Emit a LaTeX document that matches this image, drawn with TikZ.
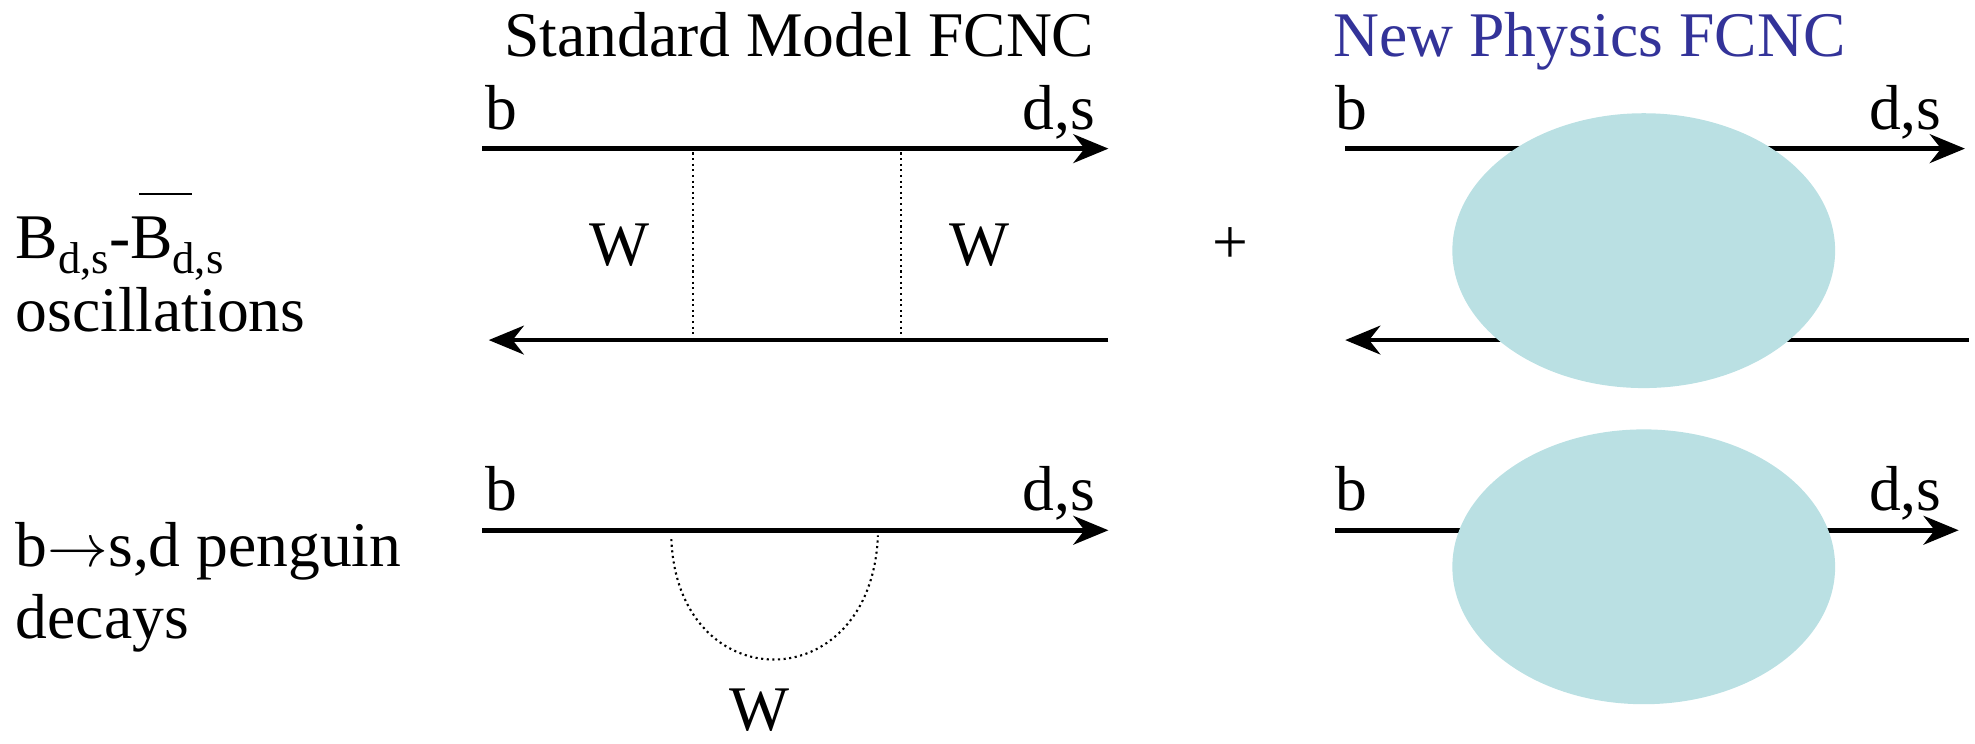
\documentclass[tikz,border=0pt]{standalone}
\usepackage{fontspec}
\setmainfont{Liberation Serif}
\usepackage{tikz}
\usetikzlibrary{arrows.meta,shapes.geometric}

\definecolor{npblue}{RGB}{51,51,153}
\definecolor{blobfill}{RGB}{186,224,227}
\newcommand{\qsub}[1]{\raisebox{-0.24em}{\fontsize{12.7}{14}\selectfont #1}}
\newcommand{\qbar}{\rlap{\hspace{0.14em}\rule[0.99em]{0.83em}{0.6pt}}}

\begin{document}
\begin{tikzpicture}[x=0.0126cm,y=-0.0126cm,
                    font=\fontsize{18.1}{21.7}\selectfont,
                    quark/.style={line width=1.3pt,-{Stealth[length=10pt,width=8.2pt,inset=3.2pt]}},
                    wprop/.style={densely dotted,line width=0.6pt},
                    blob/.style={ellipse,fill=blobfill,inner sep=0pt,minimum width=3.83cm,minimum height=2.75cm},
                    lbl/.style={inner sep=0pt}]
  \useasboundingbox (0,0) rectangle (1568,590);

  % headings
  \node[lbl,anchor=base west] (smhead) at (400,45) {Standard Model FCNC};
  \node[lbl,anchor=base west,text=npblue] (nphead) at (1058,45) {New Physics FCNC};

  % row labels
  \node[lbl,anchor=base west] (mix1) at (12,205) {B\qsub{d,s}-\qbar B\qsub{d,s}};
  \node[lbl,anchor=base west] (mix2) at (12,263) {oscillations};
  \node[lbl,anchor=base west] (peng1) at (12,450) {b$\rightarrow$s,d penguin};
  \node[lbl,anchor=base west] (peng2) at (12,507) {decays};

  % quark labels
  \node[lbl,anchor=base west] (bin1) at (385,103) {b};
  \node[lbl,anchor=base east] (dout1) at (870,103) {d,s};
  \node[lbl,anchor=base west] (bin2) at (1060,103) {b};
  \node[lbl,anchor=base east] (dout2) at (1542,103) {d,s};
  \node[lbl,anchor=base west] (bin3) at (385,405) {b};
  \node[lbl,anchor=base east] (dout3) at (870,405) {d,s};
  \node[lbl,anchor=base west] (bin4) at (1060,405) {b};
  \node[lbl,anchor=base east] (dout4) at (1542,405) {d,s};

  \node[lbl] (wleft) at (492,195) {W};
  \node[lbl] (wright) at (778,195) {W};
  \node[lbl,anchor=base] (wloop) at (603,580) {W};
  \node[lbl] (plus) at (977,195) {+};

  % line ends
  \coordinate (a1) at (383,118);  \coordinate (a2) at (880,118);
  \coordinate (a3) at (880,270);  \coordinate (a4) at (388,270);
  \coordinate (b1) at (1068,118); \coordinate (b2) at (1560,118);
  \coordinate (b3) at (1563,270); \coordinate (b4) at (1068,270);
  \coordinate (c1) at (383,421);  \coordinate (c2) at (880,421);
  \coordinate (d1) at (1060,421); \coordinate (d2) at (1555,421);
  \coordinate (w1) at (550,121);  \coordinate (w2) at (550,270);
  \coordinate (w3) at (715,121);  \coordinate (w4) at (715,270);
  \coordinate (p1) at (533,428);  \coordinate (p2) at (697,425);

  \draw[quark] (a1) -- (a2);
  \draw[quark] (a3) -- (a4);
  \draw[quark] (b1) -- (b2);
  \draw[quark] (b3) -- (b4);
  \draw[quark] (c1) -- (c2);
  \draw[quark] (d1) -- (d2);
  \draw[wprop] (w1) -- (w2);
  \draw[wprop] (w3) -- (w4);
  \draw[wprop] (p1) .. controls (538,556) and (692,556) .. (p2);

  % new physics blobs
  \node[blob] (npmix) at (1305,199) {};
  \node[blob] (nppeng) at (1305,450) {};
\end{tikzpicture}
\end{document}
